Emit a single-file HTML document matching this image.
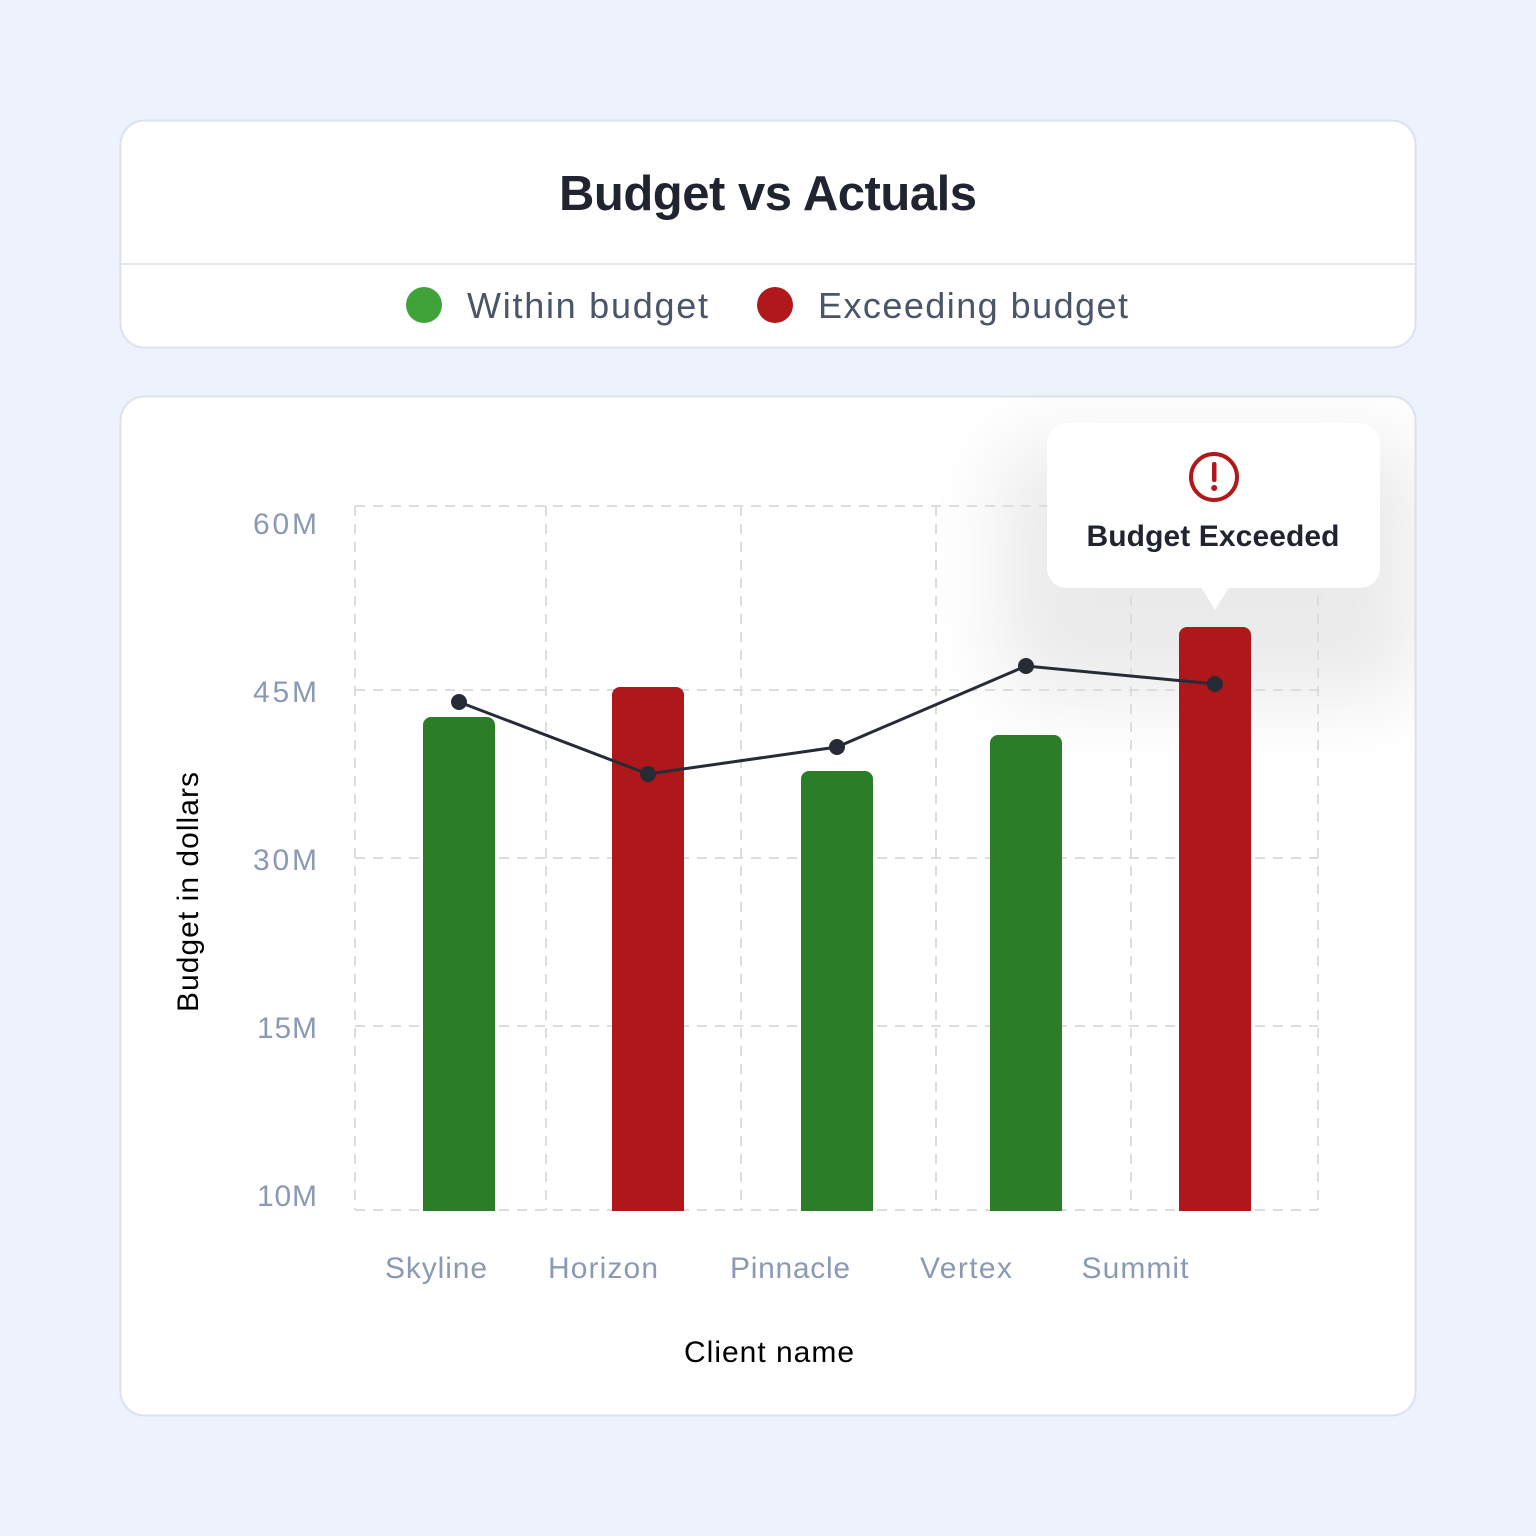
<!DOCTYPE html>
<html><head><style>html,body{margin:0;padding:0;background:#edf2fd;overflow:hidden}</style></head><body>
<svg width="1536" height="1536" viewBox="0 0 1536 1536" xmlns="http://www.w3.org/2000/svg" font-family="Liberation Sans, sans-serif" style="display:block">
<defs>
<filter id="sh" x="-60%" y="-60%" width="220%" height="260%"><feGaussianBlur stdDeviation="40"/></filter>
<clipPath id="c2"><rect x="121" y="397" width="1294" height="1018" rx="24"/></clipPath>
</defs>
<rect width="1536" height="1536" fill="#edf2fd"/>
<rect x="120.5" y="120.5" width="1295" height="227" rx="24" fill="#fff" stroke="#dde3ec" stroke-width="2"/>
<line x1="121" y1="264" x2="1415" y2="264" stroke="#e3e7ee" stroke-width="2"/>
<text x="768" y="210" text-anchor="middle" font-size="49" font-weight="bold" fill="#1f2430" textLength="418">Budget vs Actuals</text>
<circle cx="424" cy="305" r="18" fill="#3fa33a"/>
<text x="467" y="318" font-size="36" fill="#4a5568" textLength="241">Within budget</text>
<circle cx="775" cy="305" r="18" fill="#b0181b"/>
<text x="818" y="318" font-size="36" fill="#4a5568" textLength="310">Exceeding budget</text>
<rect x="120.5" y="396.5" width="1295" height="1019" rx="24" fill="#fff" stroke="#dde3ec" stroke-width="2"/>
<g clip-path="url(#c2)">
<rect x="1000" y="440" width="420" height="260" rx="40" fill="#000" opacity="0.08" filter="url(#sh)"/>
</g>
<g stroke="#dcdde0" stroke-width="2" stroke-dasharray="10,8" fill="none">
<line x1="355" y1="506" x2="1318" y2="506"/><line x1="355" y1="690" x2="1318" y2="690"/><line x1="355" y1="858" x2="1318" y2="858"/><line x1="355" y1="1026" x2="1318" y2="1026"/><line x1="355" y1="1210" x2="1318" y2="1210"/>
<line x1="355" y1="506" x2="355" y2="1210"/><line x1="546" y1="506" x2="546" y2="1210"/><line x1="741" y1="506" x2="741" y2="1210"/><line x1="936" y1="506" x2="936" y2="1210"/><line x1="1131" y1="506" x2="1131" y2="1210"/><line x1="1318" y1="506" x2="1318" y2="1210"/>
</g>
<g font-size="30" fill="#8a9ab5" text-anchor="end">
<text x="317" y="534" textLength="64">60M</text><text x="317" y="702" textLength="64">45M</text><text x="317" y="870" textLength="64">30M</text><text x="317" y="1038" textLength="60">15M</text><text x="317" y="1206" textLength="60">10M</text>
</g>
<path d="M423 1211V725a8 8 0 0 1 8-8h56a8 8 0 0 1 8 8V1211z" fill="#2b7d27"/>
<path d="M612 1211V695a8 8 0 0 1 8-8h56a8 8 0 0 1 8 8V1211z" fill="#ae181a"/>
<path d="M801 1211V779a8 8 0 0 1 8-8h56a8 8 0 0 1 8 8V1211z" fill="#2b7d27"/>
<path d="M990 1211V743a8 8 0 0 1 8-8h56a8 8 0 0 1 8 8V1211z" fill="#2b7d27"/>
<path d="M1179 1211V635a8 8 0 0 1 8-8h56a8 8 0 0 1 8 8V1211z" fill="#ae181a"/>
<polyline points="459,702 648,774 837,747 1026,666 1215,684" fill="none" stroke="#262b36" stroke-width="3"/>
<g fill="#262b36"><circle cx="459" cy="702" r="8"/><circle cx="648" cy="774" r="8"/><circle cx="837" cy="747" r="8"/><circle cx="1026" cy="666" r="8"/><circle cx="1215" cy="684" r="8"/></g>
<rect x="1047" y="423" width="333" height="165" rx="20" fill="#fff"/>
<polygon points="1201,587 1229,587 1215,610" fill="#fff"/>
<circle cx="1214" cy="477" r="23" fill="none" stroke="#b0181b" stroke-width="4"/>
<rect x="1212" y="462" width="4.5" height="20" rx="2" fill="#b0181b"/>
<circle cx="1214.2" cy="488" r="3" fill="#b0181b"/>
<text x="1213" y="546" text-anchor="middle" font-size="30" font-weight="bold" fill="#1f2430" textLength="253">Budget Exceeded</text>
<g font-size="30" fill="#8a9ab5" text-anchor="middle">
<text x="436" y="1278" textLength="102">Skyline</text><text x="603" y="1278" textLength="110">Horizon</text><text x="790" y="1278" textLength="120">Pinnacle</text><text x="966" y="1278" textLength="92">Vertex</text><text x="1135" y="1278" textLength="107">Summit</text>
</g>
<text x="769" y="1362" text-anchor="middle" font-size="30" fill="#000" textLength="170">Client name</text>
<text transform="translate(198,892) rotate(-90)" text-anchor="middle" font-size="30" fill="#000" textLength="240">Budget in dollars</text>
</svg>
</body></html>
